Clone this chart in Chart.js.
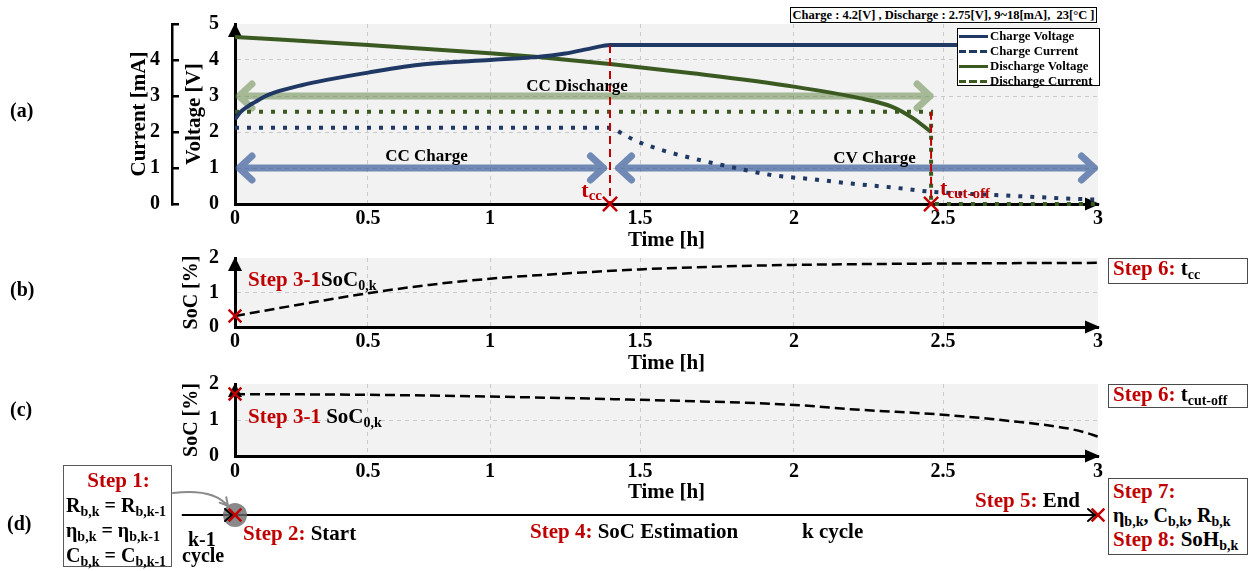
<!DOCTYPE html>
<html>
<head>
<meta charset="utf-8">
<script src="https://cdn.jsdelivr.net/npm/chart.js@4.4.1/dist/chart.umd.min.js"></script>
<style>
  html, body { margin: 0; padding: 0; background: #fff; }
  #wrap { position: relative; width: 1255px; height: 571px; overflow: hidden;
          font-family: "Liberation Serif", "Times New Roman", serif; font-weight: bold; color: #000; }
  #wrap canvas { position: absolute; left: 0; }
  .t { position: absolute; white-space: nowrap; font-size: 21px; line-height: 20px; }
  .r { color: #c00000; }
  .box { position: absolute; box-sizing: border-box; border: 1.5px solid #4a4a4a; background: #fff; white-space: nowrap; }
  sub { font-size: 14px; vertical-align: -4px; line-height: 0; }
  #cond { position: absolute; left: 790px; top: 7px; width: 307px; height: 16px; box-sizing: border-box;
          border: 1px solid #000; font-size: 12.5px; line-height: 14px; text-align: center; white-space: pre; background: #fff; }
  #legend { position: absolute; left: 957px; top: 28px; width: 143px; height: 58px; box-sizing: border-box;
            border: 1.5px solid #000; background: #fff; }
  .lg-row { position: absolute; left: 0; height: 15px; line-height: 15px; font-size: 12.8px; white-space: nowrap; }
  .lg-line { display: inline-block; width: 29px; height: 3px; vertical-align: middle; margin: 0 2px 0 1px; position: relative; top: -1px; }
</style>
</head>
<body>
<div id="wrap">
  <canvas id="cA" width="1255" height="256" style="top:0;width:1255px;height:256px"></canvas>
  <canvas id="cB" width="1255" height="139" style="top:240px;width:1255px;height:139px"></canvas>
  <canvas id="cC" width="1255" height="142" style="top:366px;width:1255px;height:142px"></canvas>
  <canvas id="cD" width="1255" height="80" style="top:480px;width:1255px;height:80px"></canvas>

  <div id="cond">Charge : 4.2[V] , Discharge : 2.75[V], 9~18[mA],  23[°C ]</div>
  <div id="legend"></div>

  <div class="t" style="left:10px;top:100px;font-size:20px">(a)</div>
  <div class="t" style="left:10px;top:279px;font-size:20px">(b)</div>
  <div class="t" style="left:10px;top:399px;font-size:20px">(c)</div>
  <div class="t" style="left:7px;top:513px;font-size:20px">(d)</div>

  <div class="t" style="left:248px;top:269px"><span class="r">Step 3-1</span>SoC<sub>0,k</sub></div>
  <div class="t" style="left:248px;top:406px"><span class="r">Step 3-1</span> SoC<sub>0,k</sub></div>

  <div class="box" style="left:1108px;top:258px;width:140px;height:26px;padding-left:4px;font-size:21px;line-height:18px">
    <span class="r">Step 6:</span> t<sub>cc</sub>
  </div>
  <div class="box" style="left:1108px;top:384px;width:140px;height:24px;padding-left:4px;font-size:21px;line-height:18px">
    <span class="r">Step 6:</span> t<sub>cut-off</sub>
  </div>

  <div class="box" style="left:63px;top:465px;width:109px;height:102px;padding:1.5px 0 0 2px;font-size:20px;line-height:25px;border-color:#5a5a5a">
    <div class="r" style="text-align:center;font-size:21px">Step 1:</div>
    <div>R<sub>b,k</sub> = R<sub>b,k-1</sub></div>
    <div>η<sub>b,k</sub> = η<sub>b,k-1</sub></div>
    <div>C<sub>b,k</sub> = C<sub>b,k-1</sub></div>
  </div>

  <div class="t" style="left:188px;top:529px;font-size:20px">k-1</div>
  <div class="t" style="left:182px;top:545px;font-size:20px">cycle</div>
  <div class="t" style="left:243px;top:523px"><span class="r">Step 2:</span> Start</div>
  <div class="t" style="left:530px;top:521px"><span class="r">Step 4:</span> SoC Estimation</div>
  <div class="t" style="left:802px;top:521px">k cycle</div>
  <div class="t" style="right:175px;top:490px"><span class="r">Step 5:</span> End</div>

  <div class="box" style="left:1108px;top:478px;width:140px;height:77px;padding:0 0 0 4px;line-height:24px">
    <div class="r" style="font-size:21px">Step 7:</div>
    <div style="font-size:20px">η<sub>b,k</sub>, C<sub>b,k</sub>, R<sub>b,k</sub></div>
    <div style="font-size:21px"><span class="r">Step 8:</span> SoH<sub>b,k</sub></div>
  </div>
</div>

<script>
// ---------- data ----------
const timeTicks = [0, 0.5, 1, 1.5, 2, 2.5, 3];          // Time [h]
const voltTicks = [0, 1, 2, 3, 4, 5];                   // Voltage [V]
const currentTicks = [0, 1, 2, 3, 4];                   // Current [mA] (labelled)
const socTicks = [0, 1, 2];                             // SoC [%]

const tCC = 1.40;        // end of constant-current charging [h]
const tCutOff = 2.46;    // discharge cut-off [h]
const timelineStart = -0.2;   // k-1 cycle lead-in on the cycle timeline

const chargeVoltT = [0, 0.02, 0.05, 0.075, 0.11, 0.15, 0.25, 0.34, 0.5, 0.73, 1.0, 1.15, 1.25, 1.34, 1.40, 3.0];
const chargeVoltV = [2.35, 2.55, 2.72, 2.83, 2.98, 3.10, 3.30, 3.44, 3.65, 3.88, 4.00, 4.08, 4.18, 4.33, 4.42, 4.42];

const chargeCurT = [0, 1.40, 1.44, 1.48, 1.57, 1.67, 1.80, 1.93, 2.06, 2.20, 2.33, 2.46, 2.67, 2.88, 3.0];
const chargeCurI = [2.12, 2.12, 1.96, 1.78, 1.50, 1.27, 1.02, 0.80, 0.69, 0.56, 0.46, 0.34, 0.25, 0.16, 0.12];

const dischVoltT = [0, 0.5, 1.0, 1.15, 1.40, 1.67, 2.0, 2.22, 2.33, 2.40, 2.46];
const dischVoltV = [4.64, 4.42, 4.19, 4.09, 3.89, 3.63, 3.26, 2.94, 2.70, 2.38, 2.00];

const dischCurT = [0, 2.46, 2.46, 3.0];
const dischCurI = [2.56, 2.56, 0, 0];

const socChargeT = [0, 0.25, 0.5, 0.75, 1.0, 1.25, 1.5, 1.75, 2.0, 2.5, 3.0];
const socCharge  = [0.32, 0.66, 0.98, 1.22, 1.40, 1.55, 1.67, 1.75, 1.80, 1.84, 1.86];

const socDischT = [0, 0.5, 1.0, 1.5, 2.0, 2.19, 2.51, 2.74, 2.90, 2.96, 3.0];
const socDisch  = [1.72, 1.70, 1.65, 1.56, 1.42, 1.30, 1.14, 0.95, 0.77, 0.65, 0.54];

// ---------- styling ----------
const FAMILY = "'Liberation Serif', 'Times New Roman', serif";
const font = size => ({ family: FAMILY, size, weight: 'bold' });
const NAVY = '#203864';
const GREEN = '#3a5a22';
const RED = '#c00000';
const GRID = '#c9c9c9';
const PLOT_BG = '#f2f2f2';
const NONE = 'rgba(0,0,0,0)';

Chart.defaults.color = '#000';
Chart.defaults.font.family = FAMILY;
Chart.defaults.font.weight = 'bold';

const xy = (xs, ys) => xs.map((x, i) => ({ x, y: ys[i] }));

// ---------- time axis with unequal spacing between its ticks ----------
const tickFrac = [0, 0.1541, 0.2955, 0.4693, 0.6477, 0.8204, 1];

function timeToFrac(v) {
  const k = timeTicks;
  let i = 0;
  if (v >= k[k.length - 1]) i = k.length - 2;
  else if (v > k[0]) while (v > k[i + 1]) i++;
  return tickFrac[i] + (v - k[i]) / (k[i + 1] - k[i]) * (tickFrac[i + 1] - tickFrac[i]);
}
function fracToTime(f) {
  const k = timeTicks;
  let i = 0;
  if (f >= tickFrac[tickFrac.length - 1]) i = tickFrac.length - 2;
  else if (f > 0) while (f > tickFrac[i + 1]) i++;
  return k[i] + (f - tickFrac[i]) / (tickFrac[i + 1] - tickFrac[i]) * (k[i + 1] - k[i]);
}

class SegmentedTimeScale extends Chart.LinearScale {
  static id = 'segmentedTime';
  getPixelForValue(value) { return this.getPixelForDecimal(timeToFrac(value)); }
  getValueForPixel(pixel) { return fracToTime(this.getDecimalForPixel(pixel)); }
}
Chart.register(SegmentedTimeScale);

// axes keep the plot area exactly where the layout padding puts it
function pinScale(s, size) {
  if (s.isHorizontal()) s.height = size; else s.width = size;
  s.paddingTop = 0; s.paddingBottom = 0; s.paddingLeft = 0; s.paddingRight = 0;
}

// ---------- plugins ----------
const plotBg = {
  id: 'plotBg',
  beforeDraw(chart, args, opts) {
    if (!opts.color) return;
    const { ctx, chartArea: a } = chart;
    ctx.save();
    ctx.fillStyle = opts.color;
    ctx.fillRect(a.left, a.top, a.right - a.left, a.bottom - a.top);
    ctx.restore();
  }
};

const axisArrows = {
  id: 'axisArrows',
  beforeDatasetsDraw(chart) {
    const { ctx, chartArea: a } = chart;
    ctx.save();
    ctx.fillStyle = '#000';
    ctx.beginPath();
    ctx.moveTo(a.left, a.top - 1);
    ctx.lineTo(a.left - 7, a.top + 13);
    ctx.lineTo(a.left + 7, a.top + 13);
    ctx.closePath();
    ctx.fill();
    ctx.beginPath();
    ctx.moveTo(a.right + 2, a.bottom);
    ctx.lineTo(a.right - 13, a.bottom - 6.5);
    ctx.lineTo(a.right - 13, a.bottom + 6.5);
    ctx.closePath();
    ctx.fill();
    ctx.restore();
  }
};

function drawParts(ctx, x, baseline, parts, align) {
  let w = 0;
  for (const p of parts) {
    ctx.font = `bold ${p.size}px ${FAMILY}`;
    p.w = ctx.measureText(p.text).width;
    w += p.w;
  }
  let cx = align === 'right' ? x - w : x;
  ctx.textAlign = 'left';
  ctx.textBaseline = 'alphabetic';
  for (const p of parts) {
    ctx.font = `bold ${p.size}px ${FAMILY}`;
    ctx.fillStyle = p.color;
    ctx.fillText(p.text, cx, baseline + (p.drop || 0));
    cx += p.w;
  }
}

// phase arrows, phase names and the t_cc / t_cut-off tags of panel (a)
const phaseAnnotations = {
  id: 'phaseAnnotations',
  beforeDatasetsDraw(chart, args, o) {
    const { ctx } = chart;
    const xs = chart.scales.x, ys = chart.scales.y;
    for (const a of o.arrows) {
      const y0 = ys.getPixelForValue(a.level);
      const x1 = xs.getPixelForValue(a.from) + a.insetStart;
      const x2 = xs.getPixelForValue(a.to) - a.insetEnd;
      ctx.save();
      ctx.strokeStyle = a.color;
      ctx.lineWidth = 7;
      ctx.lineCap = 'round';
      ctx.lineJoin = 'round';
      ctx.beginPath();
      ctx.moveTo(x1, y0); ctx.lineTo(x2, y0);
      ctx.moveTo(x1 + 13, y0 - 12); ctx.lineTo(x1, y0); ctx.lineTo(x1 + 13, y0 + 12);
      ctx.moveTo(x2 - 13, y0 - 12); ctx.lineTo(x2, y0); ctx.lineTo(x2 - 13, y0 + 12);
      ctx.stroke();
      ctx.restore();
    }
  },
  afterDatasetsDraw(chart, args, o) {
    const { ctx } = chart;
    const xs = chart.scales.x, ys = chart.scales.y;
    ctx.save();
    ctx.fillStyle = '#000';
    ctx.font = `bold 17px ${FAMILY}`;
    ctx.textAlign = 'center';
    ctx.textBaseline = 'middle';
    for (const a of o.arrows) {
      ctx.fillText(a.label, xs.getPixelForValue(a.textX), ys.getPixelForValue(a.textY));
    }
    const y0 = ys.getPixelForValue(0);
    for (const m of o.tags) {
      const px = xs.getPixelForValue(m.at);
      const parts = [
        { text: m.text, size: 22, color: RED },
        { text: m.sub, size: 15, color: RED, drop: 3 }
      ];
      if (m.side === 'left') drawParts(ctx, px - 8, y0 - 7, parts, 'right');
      else drawParts(ctx, px + 9, y0 - 9, parts, 'left');
    }
    ctx.restore();
  }
};

// connector from the Step 1 box to the start of the cycle in panel (d)
const cycleConnector = {
  id: 'cycleConnector',
  afterDatasetsDraw(chart, args, o) {
    const { ctx } = chart;
    const ex = chart.scales.x.getPixelForValue(0) - 7;
    const ey = chart.scales.y.getPixelForValue(0) - 9;
    const sx = o.startX, sy = o.startY;
    const cx = sx + 40, cy = sy - 5;
    ctx.save();
    ctx.strokeStyle = '#8a8a8a';
    ctx.lineWidth = 2;
    ctx.lineCap = 'round';
    ctx.beginPath();
    ctx.moveTo(sx, sy);
    ctx.quadraticCurveTo(cx, cy, ex, ey);
    const ang = Math.atan2(ey - cy, ex - cx);
    ctx.moveTo(ex - 9 * Math.cos(ang - 0.5), ey - 9 * Math.sin(ang - 0.5));
    ctx.lineTo(ex, ey);
    ctx.lineTo(ex - 9 * Math.cos(ang + 0.5), ey - 9 * Math.sin(ang + 0.5));
    ctx.stroke();
    ctx.restore();
  }
};

// ---------- shared axis builders ----------
function timeScale(pad) {
  return {
    type: 'segmentedTime', min: 0, max: 3,
    afterBuildTicks: s => { s.ticks = timeTicks.map(value => ({ value })); },
    afterFit: s => pinScale(s, 49),
    border: { display: true, color: '#000', width: 3, dash: [4, 4] },
    grid: { drawTicks: false, lineWidth: 1,
            color: c => (c.tick && c.tick.value > 0 && c.tick.value < 3) ? GRID : NONE },
    ticks: { padding: pad, font: font(20), color: '#000', maxRotation: 0, autoSkip: false,
             callback: v => String(v) },
    title: { display: true, text: 'Time [h]', font: font(21), color: '#000', padding: 0 }
  };
}

function valueScale(ticks, title, titleSize, titlePad) {
  const max = ticks[ticks.length - 1];
  return {
    type: 'linear', position: 'left', min: 0, max, weight: 0,
    afterBuildTicks: s => { s.ticks = ticks.map(value => ({ value })); },
    afterFit: s => pinScale(s, 63),
    border: { display: true, color: '#000', width: 3, dash: [4, 4] },
    grid: { drawTicks: false, lineWidth: 1,
            color: c => (c.tick && c.tick.value > 0 && c.tick.value < max) ? GRID : NONE },
    ticks: { padding: 16, font: font(20), color: '#000' },
    title: { display: true, text: title, font: font(titleSize), color: '#000', padding: { top: titlePad, bottom: 0 } }
  };
}

const baseOptions = (padding) => ({
  responsive: false,
  animation: false,
  events: [],
  devicePixelRatio: 1,
  layout: { padding, autoPadding: false },
  plugins: { legend: { display: false }, tooltip: { enabled: false } }
});

const crossMarks = (points, r) => ({
  data: points, showLine: false, pointStyle: 'crossRot', pointRadius: r,
  pointBorderColor: RED, pointBorderWidth: 2.5, pointBackgroundColor: NONE, clip: false
});

// ---------- (a) charge / discharge profiles ----------
const ccTop = chargeVoltV[chargeVoltT.indexOf(tCC)];
const cutTop = dischCurI[0];

const optsA = baseOptions({ left: 115, right: 157, top: 24, bottom: 3 });
optsA.plugins.plotBg = { color: PLOT_BG };
optsA.plugins.phaseAnnotations = {
  arrows: [
    { label: 'CC Discharge', from: 0, to: tCutOff, level: 3, color: 'rgba(102,138,75,0.55)',
      insetStart: 4, insetEnd: 1, textX: 1.29, textY: 3.25 },
    { label: 'CC Charge', from: 0, to: tCC, level: 1, color: 'rgba(58,92,155,0.7)',
      insetStart: 4, insetEnd: 6.5, textX: 0.74, textY: 1.31 },
    { label: 'CV Charge', from: tCC, to: 3, level: 1, color: 'rgba(58,92,155,0.7)',
      insetStart: 8.5, insetEnd: 3.5, textX: 2.27, textY: 1.25 }
  ],
  tags: [
    { at: tCC, text: 't', sub: 'cc', side: 'left' },
    { at: tCutOff, text: 't', sub: 'cut-off', side: 'right' }
  ]
};
optsA.scales = {
  x: timeScale(3),
  y: valueScale(voltTicks, 'Voltage [V]', 21, 10),
  y2: {
    type: 'linear', position: 'left', min: 0, max: 5, weight: 1,
    afterBuildTicks: s => { s.ticks = voltTicks.map(value => ({ value })); },
    afterFit: s => pinScale(s, 57),
    border: { display: true, color: '#000', width: 2.5 },
    grid: { drawOnChartArea: false, drawTicks: true, tickLength: -7, color: '#000', lineWidth: 2.5 },
    ticks: { padding: 19, font: font(20), color: '#000',
             callback: v => currentTicks.includes(v) ? String(v) : '' },
    title: { display: true, text: 'Current [mA]', font: font(21), color: '#000', padding: { top: 12, bottom: 0 } }
  }
};

const chartA = new Chart(document.getElementById('cA'), {
  type: 'line',
  data: {
    datasets: [
      crossMarks([{ x: tCC, y: 0 }, { x: tCutOff, y: 0 }], 10),
      { data: [{ x: tCC, y: ccTop }, { x: tCC, y: 0 }], borderColor: RED, borderWidth: 2,
        borderDash: [8, 5], pointRadius: 0, clip: false },
      { data: [{ x: tCutOff, y: cutTop }, { x: tCutOff, y: 0 }], borderColor: RED, borderWidth: 2,
        borderDash: [8, 5], pointRadius: 0, clip: false },
      { label: 'Charge Voltage', legendStyle: 'solid', data: xy(chargeVoltT, chargeVoltV),
        borderColor: NAVY, borderWidth: 4, pointRadius: 0, cubicInterpolationMode: 'monotone' },
      { label: 'Charge Current', legendStyle: 'dash', yAxisID: 'y2', data: xy(chargeCurT, chargeCurI),
        borderColor: NAVY, borderWidth: 4, borderDash: [4, 8], borderCapStyle: 'butt',
        pointRadius: 0, cubicInterpolationMode: 'monotone' },
      { label: 'Discharge Voltage', legendStyle: 'solid', data: xy(dischVoltT, dischVoltV),
        borderColor: GREEN, borderWidth: 4, pointRadius: 0, cubicInterpolationMode: 'monotone' },
      { label: 'Discharge Current', legendStyle: 'dash', yAxisID: 'y2', data: xy(dischCurT, dischCurI),
        borderColor: GREEN, borderWidth: 4, borderDash: [4, 8], borderCapStyle: 'butt',
        pointRadius: 0, tension: 0, clip: false }
    ]
  },
  options: optsA,
  plugins: [plotBg, axisArrows, phaseAnnotations]
});

// legend for (a), built from the series above
const legendEl = document.getElementById('legend');
legendEl.innerHTML = chartA.data.datasets
  .filter(d => d.legendStyle)
  .map((d, i) => {
    const bg = d.legendStyle === 'dash'
      ? `repeating-linear-gradient(90deg, ${d.borderColor} 0 7.5px, transparent 7.5px 10.5px)`
      : d.borderColor;
    return `<div class="lg-row" style="top:${i * 15}px"><span class="lg-line" style="background:${bg}"></span>${d.label}</div>`;
  }).join('');

// ---------- (b) SoC while charging ----------
const optsB = baseOptions({ left: 172, right: 157, top: 18, bottom: 3 });
optsB.plugins.plotBg = { color: PLOT_BG };
optsB.scales = { x: timeScale(3), y: valueScale(socTicks, 'SoC [%]', 20, 8) };
new Chart(document.getElementById('cB'), {
  type: 'line',
  data: {
    datasets: [
      crossMarks([{ x: 0, y: socCharge[0] }], 9),
      { data: xy(socChargeT, socCharge), borderColor: '#000', borderWidth: 2.5, borderDash: [10, 5],
        pointRadius: 0, cubicInterpolationMode: 'monotone' }
    ]
  },
  options: optsB,
  plugins: [plotBg, axisArrows]
});

// ---------- (c) SoC while discharging ----------
const optsC = baseOptions({ left: 172, right: 157, top: 18, bottom: 3 });
optsC.plugins.plotBg = { color: PLOT_BG };
optsC.scales = { x: timeScale(4), y: valueScale(socTicks, 'SoC [%]', 20, 8) };
new Chart(document.getElementById('cC'), {
  type: 'line',
  data: {
    datasets: [
      crossMarks([{ x: 0, y: socDisch[0] }], 9),
      { data: xy(socDischT, socDisch), borderColor: '#000', borderWidth: 2.5, borderDash: [10, 5],
        pointRadius: 0, cubicInterpolationMode: 'monotone' }
    ]
  },
  options: optsC,
  plugins: [plotBg, axisArrows]
});

// ---------- (d) cycle timeline ----------
function makeChevron() {
  const c = document.createElement('canvas');
  c.width = 24; c.height = 16;
  const g = c.getContext('2d');
  g.strokeStyle = '#000';
  g.lineWidth = 2;
  g.lineCap = 'round';
  g.beginPath();
  g.moveTo(2, 2); g.lineTo(9, 8); g.lineTo(2, 14);
  g.stroke();
  return c;
}
const chevron = makeChevron();

const optsD = baseOptions({ left: 235, right: 157, top: 15, bottom: 25 });
optsD.plugins.cycleConnector = { startX: 173, startY: 13 };
optsD.scales = {
  x: { type: 'segmentedTime', min: 0, max: 3, display: false },
  y: { type: 'linear', min: -1, max: 1, display: false }
};
new Chart(document.getElementById('cD'), {
  type: 'line',
  data: {
    datasets: [
      crossMarks([{ x: 0, y: 0 }, { x: 3, y: 0 }], 9),
      { data: [{ x: 0, y: 0 }, { x: 3, y: 0 }], showLine: false, pointStyle: chevron, pointRadius: 6, clip: false },
      { data: [{ x: 0, y: 0 }], showLine: false, pointStyle: 'circle', pointRadius: 12,
        pointBackgroundColor: 'rgba(105,105,105,0.78)', pointBorderWidth: 0, clip: false },
      { data: [{ x: timelineStart, y: 0 }, { x: 3, y: 0 }], borderColor: '#000', borderWidth: 2,
        pointRadius: 0, clip: false }
    ]
  },
  options: optsD,
  plugins: [cycleConnector]
});
</script>
</body>
</html>
